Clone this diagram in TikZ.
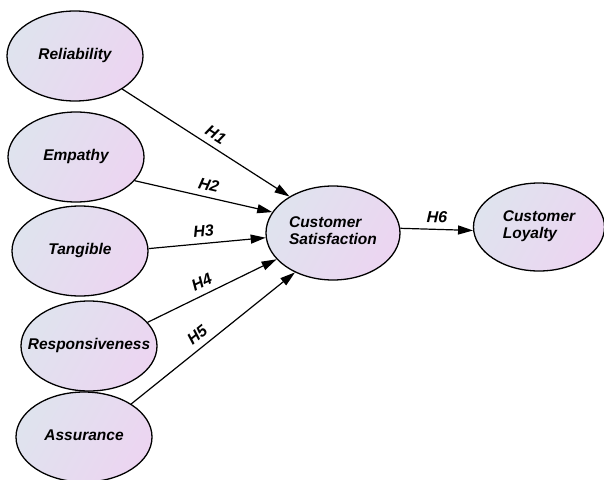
\documentclass[tikz,border=0pt]{standalone}
\usepackage{fontspec}
\setmainfont{Liberation Sans}
\usepackage{xcolor}
\usepackage{tikz}
\usetikzlibrary{
    arrows.meta,
    shapes.geometric
}

\definecolor{ovalleft}{HTML}{DFE3EE}
\definecolor{ovalright}{HTML}{ECD5F1}

\newcommand{\ovaltext}[1]{\makebox[0pt]{\begin{tabular}{@{}l@{}}#1\end{tabular}}}

\begin{document}
\begin{tikzpicture}[
    x=1pt,
    y=-1pt,
    construct/.style={
        ellipse,
        draw,
        line width=1.3pt,
        left color=ovalleft,
        right color=ovalright,
        shading angle=60,
        inner sep=0pt,
        minimum width=136pt,
        minimum height=90pt,
        font=\bfseries\itshape\fontsize{15.5}{17}\selectfont
    },
    arrow/.style={
        -{Triangle[length=15pt,width=9pt]},
        line width=1.2pt
    },
    hyp/.style={
        sloped,
        above=4pt,
        inner sep=2pt,
        font=\bfseries\itshape\fontsize{16}{17}\selectfont
    }
]

\useasboundingbox (0,0) rectangle (604,479);

% ============================================================
% SERVICE QUALITY DIMENSIONS
% ============================================================

\node[construct] (reliability) at (75,56)
{
\ovaltext{Reliability}
};

\node[construct] (empathy) at (76,157)
{
\ovaltext{Empathy}
};

\node[construct] (tangible) at (80,251)
{
\ovaltext{Tangible}
};

\node[construct] (responsiveness) at (89,346)
{
\ovaltext{Responsiveness}
};

\node[construct] (assurance) at (84,437)
{
\ovaltext{Assurance}
};

% ============================================================
% OUTCOMES
% ============================================================

\node[construct, minimum width=134pt, minimum height=94pt] (satisfaction) at (333,233)
{
\ovaltext{Customer\\Satisfaction}
};

\node[construct, minimum width=131pt, minimum height=88pt] (loyalty) at (539,227)
{
\ovaltext{Customer\\Loyalty}
};

% ============================================================
% HYPOTHESES
% ============================================================

\draw[arrow] (reliability.325) -- node[hyp, pos=0.52] {H1} (satisfaction.140);
\draw[arrow] (empathy.338) -- node[hyp, pos=0.52] {H2} (satisfaction.161);
\draw[arrow] (tangible.2) -- node[hyp, pos=0.48] {H3} (satisfaction.184);
\draw[arrow] (responsiveness.22) -- node[hyp, pos=0.46] {H4} (satisfaction.205);
\draw[arrow] (assurance.35) -- node[hyp, pos=0.45] {H5} (satisfaction.226);

\draw[arrow] (satisfaction.4) -- node[hyp, pos=0.5] {H6} (loyalty.183);

\end{tikzpicture}
\end{document}
